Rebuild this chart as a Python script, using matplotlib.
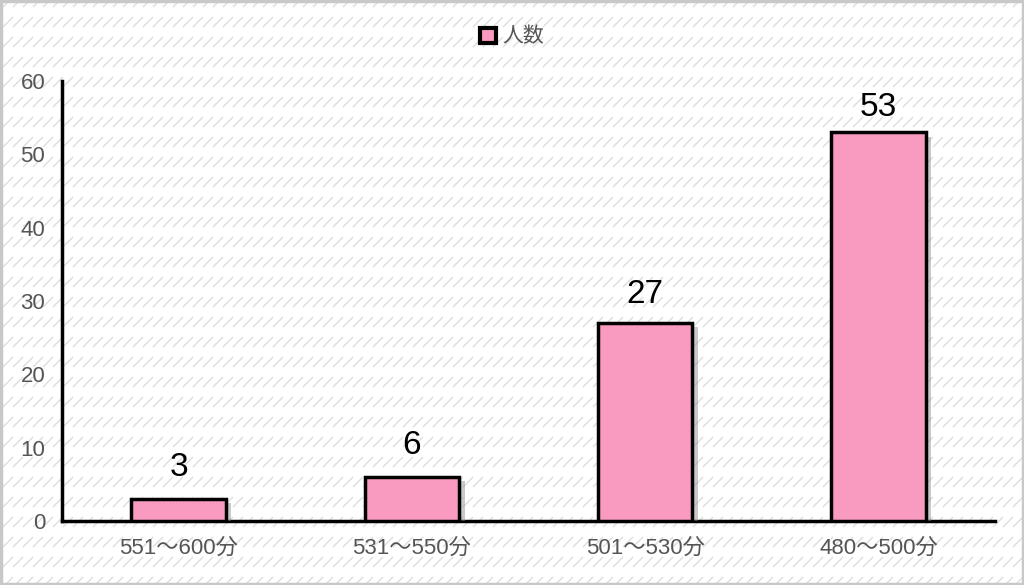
import matplotlib
matplotlib.use("Agg")
import matplotlib.pyplot as plt
from matplotlib.patches import Rectangle
from matplotlib.collections import LineCollection
import matplotlib.patheffects as pe

plt.rcParams['font.family'] = ['Liberation Sans', 'Noto Sans CJK JP', 'DejaVu Sans']

categories = ['551～600分', '531～550分', '501～530分', '480～500分']
values = [3, 6, 27, 53]
series_name = '人数'
yticks = [0, 10, 20, 30, 40, 50, 60]

bar_color = '#F99BC0'

W, H = 1024, 585
fig = plt.figure(figsize=(10.24, 5.85), dpi=100)
fig.patch.set_facecolor('white')

# background dashed diagonal pattern (decoration)
bgax = fig.add_axes([0, 0, 1, 1], zorder=-10)
bgax.set_xlim(0, W)
bgax.set_ylim(0, H)
bgax.axis('off')
k = 1.414 * 0.72
on, off = 10 * k, 10 * k
period = on + off
shift = 2
segs, styles = [], []
for c in range(-H, W + 10, 10):
    if c >= 0:
        x0, y0 = c, 0
    else:
        x0, y0 = 0, -c
    length = min(W - x0, H - y0)
    if length <= 0:
        continue
    segs.append([(x0, y0), (x0 + length, y0 + length)])
    styles.append((((y0 + shift) * k) % period, (on, off)))
lc = LineCollection(segs, colors='#dddddd', linewidths=1.0, linestyles=styles)
bgax.add_collection(lc)

border = Rectangle((0.001, 0.002), 0.998, 0.996, transform=fig.transFigure,
                   facecolor='none', edgecolor='#c8c8c8', linewidth=2.5, zorder=10)
fig.patches.append(border)

ax = fig.add_axes([0.0605, 0.1094, 0.9112, 0.7521])
ax.patch.set_alpha(0)

x = list(range(len(categories)))
bars = ax.bar(x, values, width=0.405, color=bar_color, edgecolor='black',
              linewidth=2.5, label=series_name, zorder=3)
for b in bars:
    b.set_path_effects([pe.SimplePatchShadow(offset=(4, -3), shadow_rgbFace='#888888', alpha=0.45),
                        pe.Normal()])

for xi, v in zip(x, values):
    gap_px = 23.5 - 0.14 * v
    ax.annotate(str(v), (xi, v), xytext=(0, gap_px * 0.72), textcoords='offset points',
                ha='center', va='baseline', fontsize=24, color='black')

ax.set_xlim(-0.5, 3.5)
ax.set_ylim(0, 60)
ax.set_yticks(yticks)
ax.set_xticks(x)
ax.set_xticklabels(categories)
ax.tick_params(axis='both', length=0, labelsize=16, colors='#555555')
ax.tick_params(axis='x', pad=12)
ax.tick_params(axis='y', pad=12)

for s in ['top', 'right']:
    ax.spines[s].set_visible(False)
for s in ['left', 'bottom']:
    ax.spines[s].set_linewidth(2.5)
    ax.spines[s].set_color('black')

leg = fig.legend(handles=[bars], labels=[series_name], loc='center',
                 bbox_to_anchor=(0.5, 0.937), frameon=False, fontsize=15,
                 handlelength=0.75, handleheight=0.75, handletextpad=0.3)
for t in leg.get_texts():
    t.set_color('#555555')
for h in leg.legend_handles:
    h.set_linewidth(3)
    h.set_path_effects([])

fig.savefig('out.png', dpi=100)
